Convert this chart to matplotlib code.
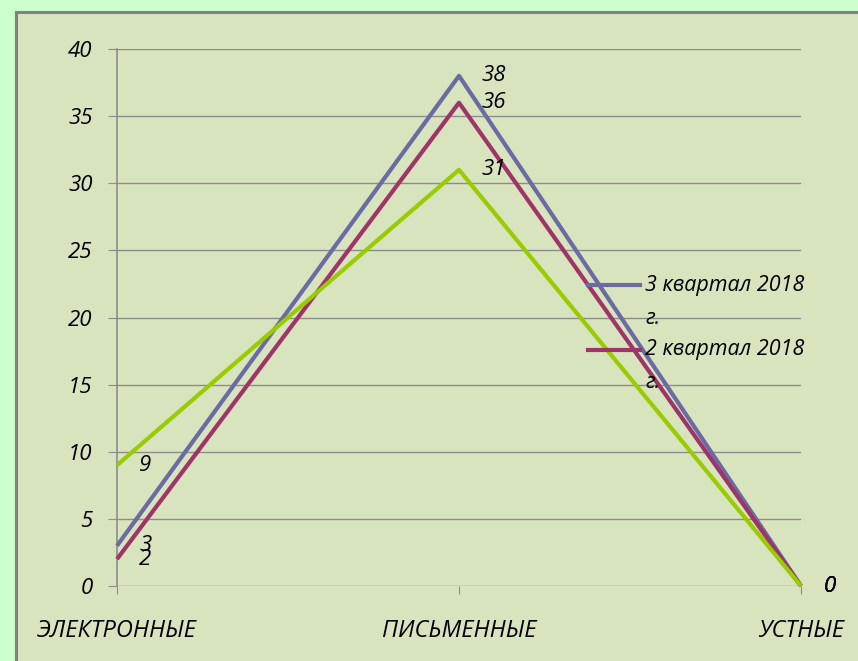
import matplotlib
matplotlib.use("Agg")
import matplotlib.pyplot as plt
from matplotlib.patches import Rectangle
from matplotlib.lines import Line2D

categories = ["ЭЛЕКТРОННЫЕ", "ПИСЬМЕННЫЕ", "УСТНЫЕ"]
q3_2018 = [3, 38, 0]
q2_2018 = [2, 36, 0]
q1_2018 = [9, 31, 0]
yticks = [0, 5, 10, 15, 20, 25, 30, 35, 40]

series = [
    ("3 квартал 2018\nг.", q3_2018, "#6B6BA3"),
    ("2 квартал 2018\nг.", q2_2018, "#9E3468"),
    ("1 квартал 2018\nг.", q1_2018, "#99CC00"),
]
in_legend = 2  # only first two entries visible in the original

plt.rcParams['font.family'] = ['Open Sans', 'DejaVu Sans']
plt.rcParams['font.style'] = 'italic'
FS = 16

fig = plt.figure(figsize=(8.58, 6.61), dpi=100)
fig.patch.set_facecolor("#CCFFCC")
# inner chart frame
fig.patches.append(Rectangle((16 / 858, -0.1), 1.0, 1 - 12 / 661 + 0.1,
                             transform=fig.transFigure, facecolor="#D8E4BD",
                             edgecolor="#808080", linewidth=2.2, zorder=-5))

ax = fig.add_axes([117 / 858, 1 - 586 / 661, (801 - 117) / 858, (586 - 49) / 661])
ax.set_facecolor("none")
x = list(range(len(categories)))

for name, vals, col in series:
    ax.plot(x, vals, color=col, lw=3, solid_capstyle="butt", zorder=3, clip_on=False)
    for xi, v in zip(x, vals):
        ax.annotate(str(v), (xi, v), xytext=(16, 0), textcoords="offset points",
                    ha="left", va="center", fontsize=FS, style="italic", color="black")

ax.set_xlim(0, 2)
ax.set_ylim(0, 40)
ax.set_yticks(yticks)
ax.set_xticks(x)
ax.set_xticklabels(categories, fontsize=FS + 1, style="italic")
for lab in ax.get_yticklabels():
    lab.set_style("italic")
ax.tick_params(axis="y", length=6.5, color="#8C8C8C", pad=11, labelsize=FS)
ax.tick_params(axis="x", length=6, color="#8C8C8C", pad=18, labelsize=FS + 1)
ax.grid(axis="y", color="#8C8C8C", lw=1)
ax.set_axisbelow(True)
for s in ["top", "right", "bottom"]:
    ax.spines[s].set_visible(False)
ax.spines["left"].set_color("#8C8C8C")
ax.spines["left"].set_linewidth(1.2)

# legend (wrapped text, handle aligned with first line)
ly = [0.5605, 0.4395]
for (name, vals, col), y in zip(series[:in_legend], ly):
    ax.add_line(Line2D([0.6886, 0.7646], [y, y], color=col, lw=3,
                       transform=ax.transAxes, clip_on=False, zorder=4))
    for k, part in enumerate(name.split("\n")):
        ax.text(0.772, y - k * 33 / 537, part, transform=ax.transAxes,
                ha="left", va="center", fontsize=FS - 0.5, style="italic", zorder=5)

fig.savefig("out.png", dpi=100, facecolor=fig.get_facecolor())
